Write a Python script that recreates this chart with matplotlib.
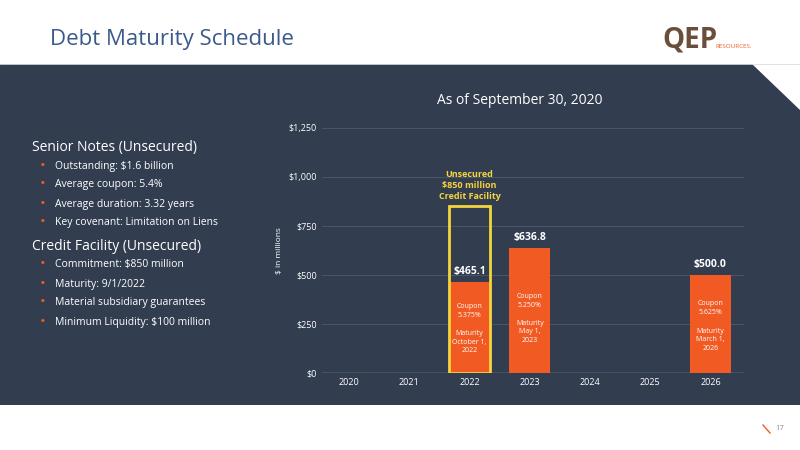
import matplotlib.pyplot as plt
from matplotlib.patches import Polygon, Rectangle

years = [2020, 2021, 2022, 2023, 2024, 2025, 2026]
notes = [0, 0, 465.1, 636.8, 0, 0, 500.0]
facility_year = 2022
facility = 850
coupons = {2022: "5.375%", 2023: "5.250%", 2026: "5.625%"}
maturities = {2022: "October 1,\n2022", 2023: "May 1,\n2023", 2026: "March 1,\n2026"}
yticks = [0, 250, 500, 750, 1000, 1250]

senior = ["Outstanding: $1.6 billion", "Average coupon: 5.4%",
          "Average duration: 3.32 years", "Key covenant: Limitation on Liens"]
credit = ["Commitment: $850 million", "Maturity: 9/1/2022",
          "Material subsidiary guarantees", "Minimum Liquidity: $100 million"]

NAVY = "#323d50"
ORANGE = "#f15a22"
YELLOW = "#f5d53c"
plt.rcParams['font.family'] = ['Open Sans', 'DejaVu Sans']

fig = plt.figure(figsize=(8, 4.5), dpi=100)
bg = fig.add_axes([0, 0, 1, 1])
bg.set_xlim(0, 800)
bg.set_ylim(450, 0)
bg.axis('off')
bg.add_patch(Polygon([(0, 64), (752, 64), (800, 110), (800, 405), (0, 405)],
                     closed=True, color=NAVY, lw=0))
bg.plot([0, 800], [64, 64], color="#dddddd", lw=0.6)
bg.text(50, 40, "Debt Maturity Schedule", color="#3b5a8a", fontsize=16, va='center')
bg.text(662, 40, "QEP", color="#6b4e3a", fontsize=20, weight='bold', va='center')
bg.text(715, 47, "RESOURCES.", color=ORANGE, fontsize=4.5, va='center')
bg.text(775, 428, "17", color="#888888", fontsize=5.5, va='center')
bg.plot([763, 770], [425, 433], color=ORANGE, lw=1)
bg.text(520, 100, "As of September 30, 2020", color="white", fontsize=10, ha='center', va='center')

y = 147
bg.text(32, y, "Senior Notes (Unsecured)", color="white", fontsize=10, va='center')
for s in senior:
    y += 19
    bg.text(40, y, "•", color=ORANGE, fontsize=11, va='center')
    bg.text(55, y, s, color="white", fontsize=7.5, va='center')
y += 23
bg.text(32, y, "Credit Facility (Unsecured)", color="white", fontsize=10, va='center')
for s in credit:
    y += 19
    bg.text(40, y, "•", color=ORANGE, fontsize=11, va='center')
    bg.text(55, y, s, color="white", fontsize=7.5, va='center')

ax = fig.add_axes([0.4025, 0.171, 0.527, 0.545])
ax.patch.set_alpha(0)
w = 0.68
ax.bar(years, notes, width=w, color=ORANGE, zorder=3)
ax.add_patch(Rectangle((facility_year - w / 2, 0), w, facility, fill=False,
                       edgecolor=YELLOW, lw=2, zorder=4))
ax.text(facility_year, facility + 25, "Unsecured\n$850 million\nCredit Facility",
        color=YELLOW, fontsize=6.5, weight='bold', ha='center', va='bottom', linespacing=1.3)
px = 1250 / 245  # data units per pixel
gap = {2022: 25, 2023: 48, 2026: 29}
for yr, v in zip(years, notes):
    if v > 0:
        ax.text(yr, v + 25, f"${v:.1f}", color="white", fontsize=7.5, weight='bold',
                ha='center', va='bottom', zorder=5)
        top = v - gap[yr] * px
        ax.text(yr, top, "Coupon", color="white", fontsize=5, ha='center', va='center', zorder=5)
        ax.text(yr, top - 9 * px, coupons[yr], color="white", fontsize=5, ha='center', va='center', zorder=5)
        ax.text(yr, top - 27 * px, "Maturity", color="white", fontsize=5, ha='center', va='center', zorder=5)
        ax.text(yr, top - 32 * px, maturities[yr], color="white", fontsize=5, ha='center', va='top',
                linespacing=1.3, zorder=5)
ax.set_xlim(2019.55, 2026.55)
ax.set_ylim(0, 1250)
ax.set_yticks(yticks)
ax.set_yticklabels([f"${t:,}" for t in yticks])
ax.set_xticks(years)
ax.tick_params(colors="white", labelsize=6.5, length=0)
ax.grid(axis='y', color="#4a5569", lw=0.7, zorder=0)
for sp in ax.spines.values():
    sp.set_visible(False)
ax.axhline(0, color="#9aa3b5", lw=1, zorder=2)
ax.set_ylabel("$ in millions", color="white", fontsize=6)
fig.savefig("out.png")
